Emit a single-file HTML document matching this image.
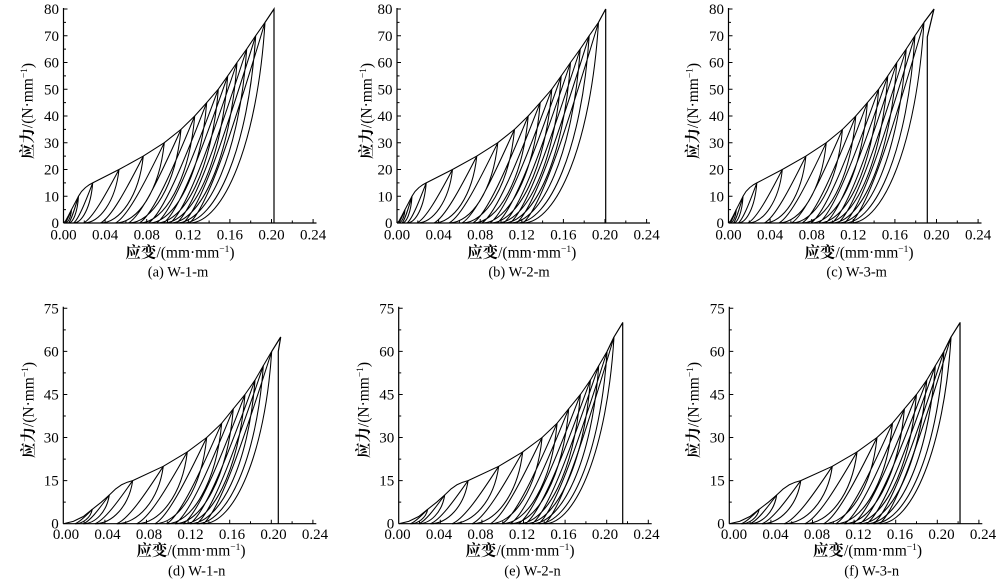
<!DOCTYPE html>
<html><head><meta charset="utf-8"><style>
html,body{margin:0;padding:0;background:#fff;}
svg{display:block;}
text{font-family:"Liberation Serif","Noto Serif CJK SC",serif;font-size:15px;fill:#000;}
.t{font-size:15.5px;}
.cap{font-size:14.5px;}
.cj{font-family:"Noto Serif CJK SC","Noto Sans CJK SC",serif;font-weight:bold;}
</style></head><body>
<svg width="1000" height="586" viewBox="0 0 1000 586" xmlns="http://www.w3.org/2000/svg">
<defs>
<g id="axM" fill="none" stroke="#000">
<path stroke-width="1.2" d="M0,0V215M0,0H253"/>
<path stroke-width="1" d="M0,26.75h4M0,53.5h4M0,80.25h4M0,107h4M0,133.75h4M0,160.5h4M0,187.25h4M0,214h4M0,13.4h2.5M0,40.1h2.5M0,66.9h2.5M0,93.6h2.5M0,120.4h2.5M0,147.1h2.5M0,173.9h2.5M0,200.6h2.5M41.6,0v4M83.2,0v4M124.8,0v4M166.4,0v4M208,0v4M249.6,0v4M20.8,0v2.5M62.4,0v2.5M104,0v2.5M145.6,0v2.5M187.2,0v2.5M228.8,0v2.5"/>
</g>
<g id="axN" fill="none" stroke="#000">
<path stroke-width="1.2" d="M0,0V217M0,0H253"/>
<path stroke-width="1" d="M0,43.08h4M0,86.16h4M0,129.24h4M0,172.32h4M0,215.4h4M0,21.54h2.5M0,64.62h2.5M0,107.7h2.5M0,150.78h2.5M0,193.86h2.5M41.6,0v4M83.2,0v4M124.8,0v4M166.4,0v4M208,0v4M249.6,0v4M20.8,0v2.5M62.4,0v2.5M104,0v2.5M145.6,0v2.5M187.2,0v2.5M228.8,0v2.5"/>
</g>
<g id="mL" fill="none" stroke="#000" stroke-width="1.05" stroke-linejoin="round">
<path d="M0,0 L2,2 L5,7.5 L8,13.4 L12,21 L15,26.8 L18,31.5 L22,35.5 L26,38.4 L29.2,40.1 L55.5,53.5 L79.8,66.9 L100.8,80.3 L117.5,93.6 L131.2,107 L143.2,120.4 L154.8,133.8 L164.2,147.1 L173.5,160.5 L183.2,173.9 L192.2,187.3 L201.5,200.6"/>
<path d="M1.5,0 C4.4,0 7.4,5.4 8,13.4 M1.5,0 C3.1,1.1 5.4,6.7 8,13.4
M5,0 C9.5,0 14,10.7 15,26.8 M5,0 C7.5,2.1 11,13.4 15,26.8
M10,0 C18.6,0 27.3,16 29.2,40.1 M10,0 C14.8,3.2 21.5,20.1 29.2,40.1
M20,0 C36,0 52,21.4 55.5,53.5 M20,0 C28.9,4.3 41.3,26.8 55.5,53.5
M37,0 C56.3,0 75.5,26.8 79.8,66.9 M37,0 C47.7,5.4 62.7,33.5 79.8,66.9
M52,0 C74,0 95.9,32.1 100.8,80.3 M52,0 C64.2,6.4 81.3,40.2 100.8,80.3
M65,0 C88.6,0 112.3,37.4 117.5,93.6 M65,0 C78.1,7.5 96.5,46.8 117.5,93.6
M76,0 C100.8,0 125.7,42.8 131.2,107 M76,0 C89.8,8.6 109.1,53.5 131.2,107
M85,0 C111.2,0 137.4,48.2 143.2,120.4 M85,0 C99.6,9.6 119.9,60.2 143.2,120.4
M93,0 C120.8,0 148.6,53.5 154.8,133.8 M93,0 C108.5,10.7 130.1,66.9 154.8,133.8
M100,0 C128.9,0 157.8,58.8 164.2,147.1 M100,0 C116.1,11.8 138.5,73.6 164.2,147.1
M106.5,0 C136.7,0 166.8,64.2 173.5,160.5 M106.5,0 C123.3,12.8 146.7,80.3 173.5,160.5
M113,0 C144.6,0 176.2,69.6 183.2,173.9 M113,0 C130.6,13.9 155.1,87 183.2,173.9
M119.5,0 C152.2,0 184.9,74.9 192.2,187.3 M119.5,0 C137.7,15 163.1,93.7 192.2,187.3
M126,0 C160,0 194,80.2 201.5,200.6 M126,0 C144.9,16 171.3,100.3 201.5,200.6"/>
</g>
<g id="nL" fill="none" stroke="#000" stroke-width="1.05" stroke-linejoin="round">
<path d="M0,0 L10,2.3 L20,7.2 L29,14.4 L38,21.5 L46,28.7 L52,34.5 L58,38.8 L64,41.5 L69.4,43.1 L100,57.4 L124,71.8 L143.4,86.2 L158.4,100.5 L170,114.9 L181.7,129.2 L191.7,143.6 L200,158 L208.4,172.3"/>
<path d="M11.7,0 C19.5,0 27.3,5.8 29,14.4 M11.7,0 C16,1.2 22.1,7.2 29,14.4
M20,0 C31.7,0 43.4,11.5 46,28.7 M20,0 C26.5,2.3 35.6,14.4 46,28.7
M31.7,0 C48.7,0 65.6,17.2 69.4,43.1 M31.7,0 C41.1,3.4 54.3,21.6 69.4,43.1
M53.4,0 C74.4,0 95.3,23 100,57.4 M53.4,0 C65.1,4.6 81.4,28.7 100,57.4
M73.4,0 C96.2,0 118.9,28.7 124,71.8 M73.4,0 C86.1,5.7 103.8,35.9 124,71.8
M91.7,0 C115,0 138.2,34.5 143.4,86.2 M91.7,0 C104.6,6.9 122.7,43.1 143.4,86.2
M103.4,0 C128.2,0 152.9,40.2 158.4,100.5 M103.4,0 C117.2,8 136.4,50.3 158.4,100.5
M111.7,0 C137.9,0 164.2,46 170,114.9 M111.7,0 C126.3,9.2 146.7,57.5 170,114.9
M120,0 C147.8,0 175.5,51.7 181.7,129.2 M120,0 C135.4,10.3 157,64.6 181.7,129.2
M126.7,0 C156,0 185.2,57.4 191.7,143.6 M126.7,0 C143,11.5 165.7,71.8 191.7,143.6
M133.4,0 C163.4,0 193.3,63.2 200,158 M133.4,0 C150.1,12.6 173.4,79 200,158
M140,0 C170.8,0 201.6,68.9 208.4,172.3 M140,0 C157.1,13.8 181,86.2 208.4,172.3"/>
</g>
<g id="eAll" fill="none" stroke="#000" stroke-width="1.05" stroke-linejoin="round">
<use href="#nL"/>
<path d="M146,0 C177.2,0 208.4,74.7 215.3,186.7 M146,0 C163.3,14.9 187.6,93.4 215.3,186.7"/>
<path d="M208.4,172.3 L215.3,186.7 L224,201 L224,0" stroke-width="1.2"/>
</g>
</defs>

<g transform="translate(63.5,223) scale(1,-1)">
<use href="#axM"/><use href="#mL"/>
<path d="M201.5,200.6 L210.5,214 L210.5,0" fill="none" stroke="#000" stroke-width="1.2"/>
</g>
<g transform="translate(397,223) scale(1,-1)">
<use href="#axM"/><use href="#mL"/>
<path d="M201.5,200.6 L208.7,214 L208.7,0" fill="none" stroke="#000" stroke-width="1.2"/>
</g>
<g transform="translate(728.5,223) scale(1,-1)">
<use href="#axM"/>
<g transform="scale(0.97,1)"><use href="#mL"/></g>
<path d="M195.5,200.6 L205.5,214 L198.8,186 L198.8,0" fill="none" stroke="#000" stroke-width="1.2"/>
</g>
<g transform="translate(63.3,523.7) scale(1,-1)">
<use href="#axN"/><use href="#nL"/>
<path d="M208.4,172.3 L217.4,186.7 L215,172.3 L215,0" fill="none" stroke="#000" stroke-width="1.2"/>
</g>
<g transform="translate(398.7,523.7) scale(1,-1)">
<use href="#axN"/><use href="#eAll"/>
</g>
<g transform="translate(729.3,523.7) scale(1,-1)">
<use href="#axN"/>
<g transform="scale(1.03,1)"><use href="#eAll"/></g>
</g>

<g text-anchor="end">
<g transform="translate(59,0)">
<text x="0" y="228">0</text><text x="0" y="201.25">10</text><text x="0" y="174.5">20</text><text x="0" y="147.75">30</text><text x="0" y="121">40</text><text x="0" y="94.25">50</text><text x="0" y="67.5">60</text><text x="0" y="40.75">70</text><text x="0" y="14">80</text>
</g>
<g transform="translate(392.5,0)">
<text x="0" y="228">0</text><text x="0" y="201.25">10</text><text x="0" y="174.5">20</text><text x="0" y="147.75">30</text><text x="0" y="121">40</text><text x="0" y="94.25">50</text><text x="0" y="67.5">60</text><text x="0" y="40.75">70</text><text x="0" y="14">80</text>
</g>
<g transform="translate(724,0)">
<text x="0" y="228">0</text><text x="0" y="201.25">10</text><text x="0" y="174.5">20</text><text x="0" y="147.75">30</text><text x="0" y="121">40</text><text x="0" y="94.25">50</text><text x="0" y="67.5">60</text><text x="0" y="40.75">70</text><text x="0" y="14">80</text>
</g>
<g transform="translate(58.8,0)">
<text x="0" y="528.7">0</text><text x="0" y="485.6">15</text><text x="0" y="442.5">30</text><text x="0" y="399.5">45</text><text x="0" y="356.4">60</text><text x="0" y="313.3">75</text>
</g>
<g transform="translate(394.2,0)">
<text x="0" y="528.7">0</text><text x="0" y="485.6">15</text><text x="0" y="442.5">30</text><text x="0" y="399.5">45</text><text x="0" y="356.4">60</text><text x="0" y="313.3">75</text>
</g>
<g transform="translate(724.8,0)">
<text x="0" y="528.7">0</text><text x="0" y="485.6">15</text><text x="0" y="442.5">30</text><text x="0" y="399.5">45</text><text x="0" y="356.4">60</text><text x="0" y="313.3">75</text>
</g>
</g>

<g text-anchor="middle">
<g transform="translate(63.5,239.5)">
<text x="0">0.00</text><text x="41.6">0.04</text><text x="83.2">0.08</text><text x="124.8">0.12</text><text x="166.4">0.16</text><text x="208">0.20</text><text x="249.6">0.24</text>
</g>
<g transform="translate(397,239.5)">
<text x="0">0.00</text><text x="41.6">0.04</text><text x="83.2">0.08</text><text x="124.8">0.12</text><text x="166.4">0.16</text><text x="208">0.20</text><text x="249.6">0.24</text>
</g>
<g transform="translate(728.5,239.5)">
<text x="0">0.00</text><text x="41.6">0.04</text><text x="83.2">0.08</text><text x="124.8">0.12</text><text x="166.4">0.16</text><text x="208">0.20</text><text x="249.6">0.24</text>
</g>
<g transform="translate(66,539)">
<text x="0">0.00</text><text x="41.5">0.04</text><text x="83">0.08</text><text x="124.5">0.12</text><text x="166">0.16</text><text x="207.5">0.20</text><text x="249">0.24</text>
</g>
<g transform="translate(397.5,539)">
<text x="0">0.00</text><text x="41.5">0.04</text><text x="83">0.08</text><text x="124.5">0.12</text><text x="166">0.16</text><text x="207.5">0.20</text><text x="249">0.24</text>
</g>
<g transform="translate(734,539)">
<text x="0">0.00</text><text x="41.5">0.04</text><text x="83">0.08</text><text x="124.5">0.12</text><text x="166">0.16</text><text x="207.5">0.20</text><text x="249">0.24</text>
</g>

<text class="t" x="180" y="257.5"><tspan class="cj">应变</tspan>/(mm·mm<tspan font-size="9.5" dy="-5.5">−1</tspan><tspan dy="5.5">)</tspan></text>
<text class="t" x="521.7" y="257.5"><tspan class="cj">应变</tspan>/(mm·mm<tspan font-size="9.5" dy="-5.5">−1</tspan><tspan dy="5.5">)</tspan></text>
<text class="t" x="859" y="257.5"><tspan class="cj">应变</tspan>/(mm·mm<tspan font-size="9.5" dy="-5.5">−1</tspan><tspan dy="5.5">)</tspan></text>
<text class="t" x="191" y="555.5"><tspan class="cj">应变</tspan>/(mm·mm<tspan font-size="9.5" dy="-5.5">−1</tspan><tspan dy="5.5">)</tspan></text>
<text class="t" x="520" y="555.5"><tspan class="cj">应变</tspan>/(mm·mm<tspan font-size="9.5" dy="-5.5">−1</tspan><tspan dy="5.5">)</tspan></text>
<text class="t" x="867.5" y="555.5"><tspan class="cj">应变</tspan>/(mm·mm<tspan font-size="9.5" dy="-5.5">−1</tspan><tspan dy="5.5">)</tspan></text>

<text class="cap" x="178" y="276.5">(a) W-1-m</text>
<text class="cap" x="519" y="276.5">(b) W-2-m</text>
<text class="cap" x="856.7" y="276.5">(c) W-3-m</text>
<text class="cap" x="196.7" y="575.5">(d) W-1-n</text>
<text class="cap" x="532.5" y="575.5">(e) W-2-n</text>
<text class="cap" x="871.7" y="575.5">(f) W-3-n</text>

<text class="t" transform="translate(27,111) rotate(-90)" y="5.5"><tspan class="cj">应力</tspan>/(N·mm<tspan font-size="9.5" dy="-5.5">−1</tspan><tspan dy="5.5">)</tspan></text>
<text class="t" transform="translate(366,111) rotate(-90)" y="5.5"><tspan class="cj">应力</tspan>/(N·mm<tspan font-size="9.5" dy="-5.5">−1</tspan><tspan dy="5.5">)</tspan></text>
<text class="t" transform="translate(692.5,111) rotate(-90)" y="5.5"><tspan class="cj">应力</tspan>/(N·mm<tspan font-size="9.5" dy="-5.5">−1</tspan><tspan dy="5.5">)</tspan></text>
<text class="t" transform="translate(28,410) rotate(-90)" y="5.5"><tspan class="cj">应力</tspan>/(N·mm<tspan font-size="9.5" dy="-5.5">−1</tspan><tspan dy="5.5">)</tspan></text>
<text class="t" transform="translate(363,410) rotate(-90)" y="5.5"><tspan class="cj">应力</tspan>/(N·mm<tspan font-size="9.5" dy="-5.5">−1</tspan><tspan dy="5.5">)</tspan></text>
<text class="t" transform="translate(693,410) rotate(-90)" y="5.5"><tspan class="cj">应力</tspan>/(N·mm<tspan font-size="9.5" dy="-5.5">−1</tspan><tspan dy="5.5">)</tspan></text>
</g>
</svg>
</body></html>
